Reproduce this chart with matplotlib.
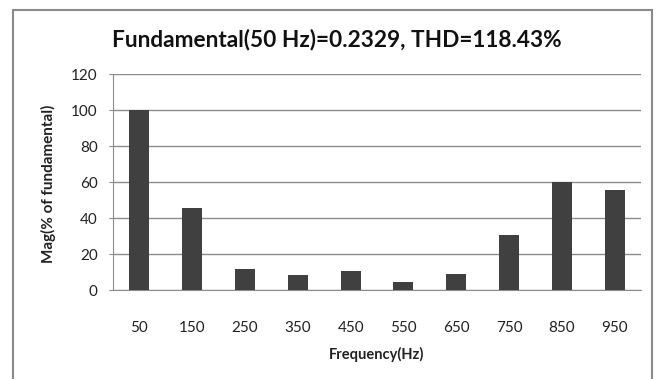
import matplotlib.pyplot as plt
from matplotlib.patches import Rectangle
import numpy as np

# Harmonic frequencies and magnitudes (% of fundamental)
freqs = ['50', '150', '250', '350', '450', '550', '650', '750', '850', '950']
mags = [100, 45.6, 11.7, 8.1, 10.4, 4.5, 8.8, 30.4, 60.2, 55.6]

title = 'Fundamental(50 Hz)=0.2329, THD=118.43%'
yticks = [0, 20, 40, 60, 80, 100, 120]

plt.rcParams['font.family'] = ['Lato', 'DejaVu Sans']

fig = plt.figure(figsize=(6.61, 3.79), dpi=100)
ax = fig.add_axes([113 / 661, 1 - 290 / 379, 528 / 661, 216 / 379])

# outer chart border (cut off at bottom/right like the picture)
fig.patches.append(Rectangle((13 / 661, -0.05), 639 / 661, 1.05 - 10 / 379,
                             transform=fig.transFigure, fill=False,
                             edgecolor='#8a8a8a', linewidth=1.5))

x = np.arange(len(freqs))
ax.bar(x, mags, width=0.38, color='#404040', zorder=3)

ax.set_xlim(-0.5, len(freqs) - 0.5)
ax.set_ylim(0, 120)
ax.set_yticks(yticks)
ax.set_xticks(x)
ax.set_xticklabels(freqs)
ax.grid(True, axis='y', color='#8c8c8c', linewidth=1.0, zorder=0)

for side in ['top', 'right']:
    ax.spines[side].set_visible(False)
ax.spines['left'].set_color('#8c8c8c')
ax.spines['bottom'].set_color('#8c8c8c')
ax.tick_params(axis='y', length=3, color='#8c8c8c', labelsize=11,
               labelcolor='#222222', pad=8)
ax.tick_params(axis='x', length=0, labelsize=11, labelcolor='#222222', pad=22)

ax.set_xlabel('Frequency(Hz)', fontsize=10.5, fontweight='bold', color='#222222', labelpad=9)
fig.text(48 / 661, 1 - 184 / 379, 'Mag(% of fundamental)', rotation=90,
         ha='center', va='center', fontsize=11, fontweight='bold', color='#222222')
fig.text(337 / 661, 1 - 39 / 379, title, ha='center', va='center',
         fontsize=16.3, fontweight='bold', color='#111111')

plt.savefig('out.png', dpi=100)
